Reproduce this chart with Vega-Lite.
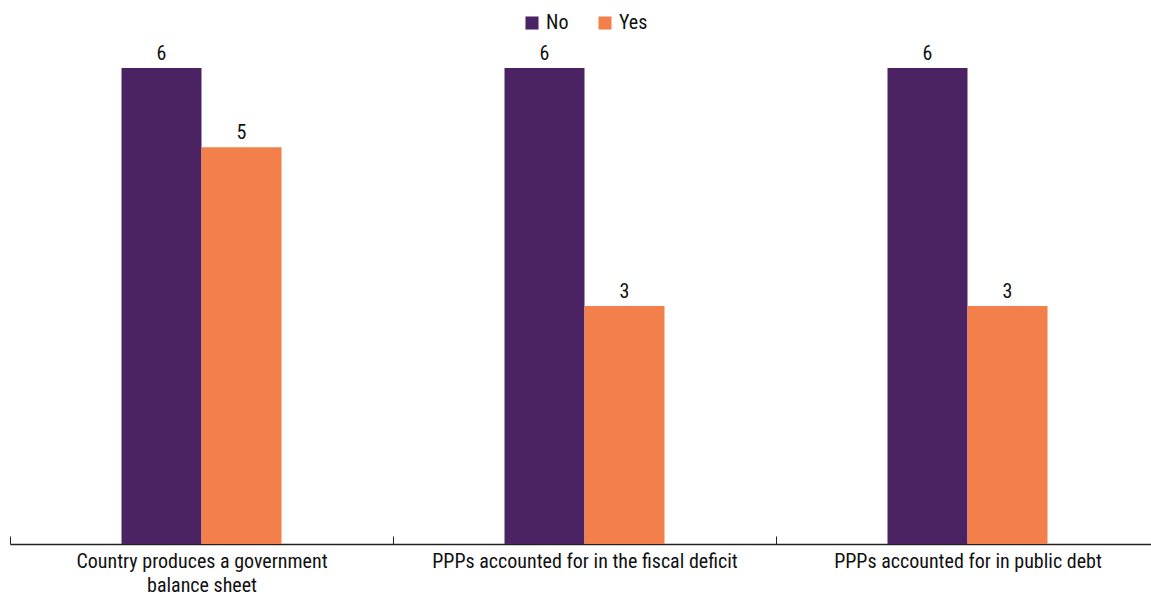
{
  "$schema": "https://vega.github.io/schema/vega-lite/v6.json",
  "autosize": {"type": "none"},
  "width": 1149,
  "height": 476,
  "padding": {"left": 10, "top": 68, "right": 0, "bottom": 51},
  "background": "white",
  "config": {
    "view": {"stroke": null},
    "font": "Liberation Sans Narrow, Roboto Condensed, Arial Narrow, sans-serif"
  },
  "data": {
    "values": [
      {"category": "Country produces a government balance sheet", "answer": "No", "count": 6},
      {"category": "Country produces a government balance sheet", "answer": "Yes", "count": 5},
      {"category": "PPPs accounted for in the fiscal deficit", "answer": "No", "count": 6},
      {"category": "PPPs accounted for in the fiscal deficit", "answer": "Yes", "count": 3},
      {"category": "PPPs accounted for in public debt", "answer": "No", "count": 6},
      {"category": "PPPs accounted for in public debt", "answer": "Yes", "count": 3}
    ]
  },
  "encoding": {
    "x": {
      "field": "category", "type": "nominal", "sort": null, "title": null,
      "scale": {"paddingInner": 0, "paddingOuter": 0},
      "axis": {
        "labelAngle": 0,
        "tickBand": "extent",
        "tickSize": -8,
        "tickColor": "#222",
        "domainColor": "#222",
        "domainWidth": 1.5,
        "tickWidth": 1,
        "labelFontSize": 20,
        "labelColor": "#111",
        "labelPadding": 15,
        "labelLineHeight": 24,
        "labelLimit": 400,
        "labelExpr": "datum.value == 'Country produces a government balance sheet' ? ['Country produces a government', 'balance sheet'] : datum.value"
      }
    },
    "xOffset": {"field": "answer", "type": "nominal", "scale": {"paddingInner": 0, "paddingOuter": 0, "range": [111.5, 271.5]}},
    "y": {"field": "count", "type": "quantitative", "scale": {"domain": [0, 6], "nice": false}, "axis": null}
  },
  "layer": [
    {
      "mark": {"type": "bar"},
      "encoding": {
        "color": {
          "field": "answer", "type": "nominal",
          "scale": {"domain": ["No", "Yes"], "range": ["#4B2362", "#F3804A"]},
          "legend": {
            "title": null,
            "orient": "none",
            "direction": "horizontal",
            "legendX": 512,
            "legendY": -55,
            "symbolType": "square",
            "symbolSize": 170,
            "symbolStrokeWidth": 0,
            "labelFontSize": 20,
            "labelColor": "#111",
            "columnPadding": 26,
            "labelOffset": 4
          }
        }
      }
    },
    {
      "mark": {"type": "text", "baseline": "bottom", "dy": -4, "fontSize": 20, "color": "#111"},
      "encoding": {"text": {"field": "count", "type": "quantitative"}}
    }
  ]
}
